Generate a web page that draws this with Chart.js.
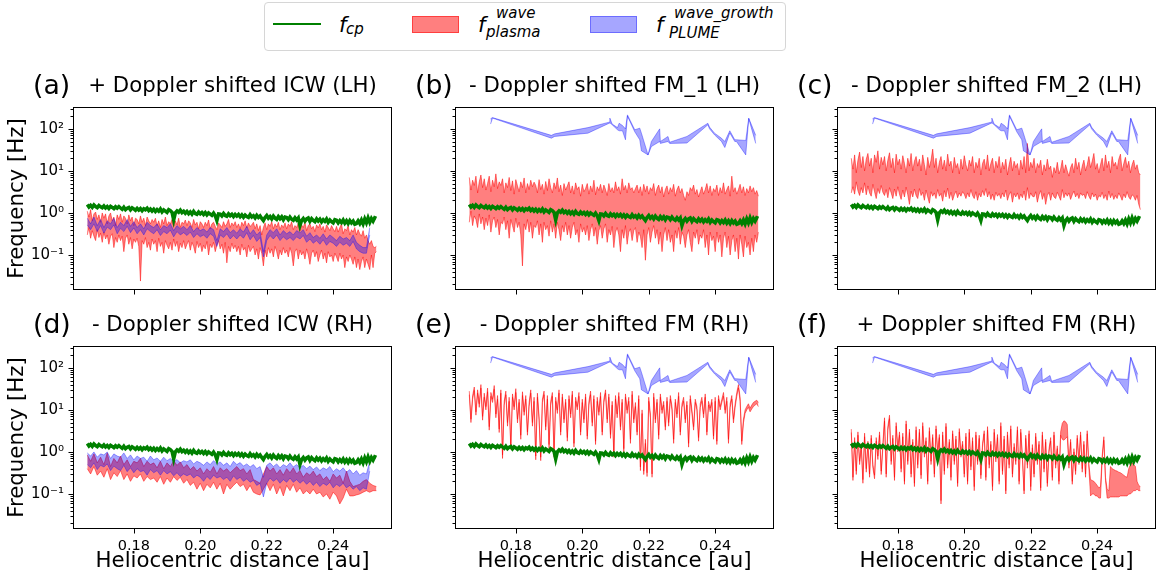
<!DOCTYPE html>
<html><head><meta charset="utf-8">
<script src="https://cdn.jsdelivr.net/npm/chart.js@4.4.0/dist/chart.umd.min.js"></script>
<style>
body{margin:0;background:#fff;width:1159px;height:580px;overflow:hidden;position:relative;font-family:'DejaVu Sans',sans-serif;}
.pane{position:absolute;}
.t{position:absolute;white-space:nowrap;line-height:1;color:#000;font-family:'DejaVu Sans',sans-serif;}
.box{position:absolute;box-sizing:border-box;}
</style></head><body>
<script>
// ---------- DATA ----------
// coarse distance grid [au]
const dist = [0.166,0.167,0.168,0.169,0.170,0.171,0.172,0.173,0.174,0.175,
 0.176,0.177,0.178,0.179,0.180,0.181,0.182,0.183,0.184,0.185,
 0.186,0.187,0.188,0.189,0.190,0.191,0.192,0.193,0.194,0.195,
 0.196,0.197,0.198,0.199,0.200,0.201,0.202,0.203,0.204,0.205,
 0.206,0.207,0.208,0.209,0.210,0.211,0.212,0.213,0.214,0.215,
 0.216,0.217,0.218,0.219,0.220,0.221,0.222,0.223,0.224,0.225,
 0.226,0.227,0.228,0.229,0.230,0.231,0.232,0.233,0.234,0.235,
 0.236,0.237,0.238,0.239,0.240,0.241,0.242,0.243,0.244,0.245,
 0.246,0.247,0.248,0.249,0.250,0.251,0.252,0.253];
// fine distance grid [au]
const distFine = [0.1660,0.1665,0.1670,0.1675,0.1680,0.1685,0.1690,0.1695,0.1700,0.1705,
 0.1710,0.1715,0.1720,0.1725,0.1730,0.1735,0.1740,0.1745,0.1750,0.1755,
 0.1760,0.1765,0.1770,0.1775,0.1780,0.1785,0.1790,0.1795,0.1800,0.1805,
 0.1810,0.1815,0.1820,0.1825,0.1830,0.1835,0.1840,0.1845,0.1850,0.1855,
 0.1860,0.1865,0.1870,0.1875,0.1880,0.1885,0.1890,0.1895,0.1900,0.1905,
 0.1910,0.1915,0.1920,0.1925,0.1930,0.1935,0.1940,0.1945,0.1950,0.1955,
 0.1960,0.1965,0.1970,0.1975,0.1980,0.1985,0.1990,0.1995,0.2000,0.2005,
 0.2010,0.2015,0.2020,0.2025,0.2030,0.2035,0.2040,0.2045,0.2050,0.2055,
 0.2060,0.2065,0.2070,0.2075,0.2080,0.2085,0.2090,0.2095,0.2100,0.2105,
 0.2110,0.2115,0.2120,0.2125,0.2130,0.2135,0.2140,0.2145,0.2150,0.2155,
 0.2160,0.2165,0.2170,0.2175,0.2180,0.2185,0.2190,0.2195,0.2200,0.2205,
 0.2210,0.2215,0.2220,0.2225,0.2230,0.2235,0.2240,0.2245,0.2250,0.2255,
 0.2260,0.2265,0.2270,0.2275,0.2280,0.2285,0.2290,0.2295,0.2300,0.2305,
 0.2310,0.2315,0.2320,0.2325,0.2330,0.2335,0.2340,0.2345,0.2350,0.2355,
 0.2360,0.2365,0.2370,0.2375,0.2380,0.2385,0.2390,0.2395,0.2400,0.2405,
 0.2410,0.2415,0.2420,0.2425,0.2430,0.2435,0.2440,0.2445,0.2450,0.2455,
 0.2460,0.2465,0.2470,0.2475,0.2480,0.2485,0.2490,0.2495,0.2500,0.2505,
 0.2510,0.2515,0.2520,0.2525,0.2530];

// proton cyclotron frequency f_cp [Hz] (fine grid)
const fcp = [1.58,1.38,1.52,1.36,1.55,1.42,1.34,1.50,1.40,1.33,
 1.47,1.31,1.42,1.28,1.44,1.35,1.26,1.40,1.30,1.42,
 1.31,1.22,1.37,1.20,1.30,1.35,1.18,1.32,1.25,1.16,
 1.29,1.17,1.27,1.13,1.26,1.19,1.30,1.14,1.24,1.11,
 1.22,1.08,1.20,1.10,1.24,1.06,1.18,1.11,1.03,1.20,
 1.14,1.03,0.68,1.01,1.12,1.04,1.16,1.02,1.10,0.98,
 1.08,0.96,1.06,0.94,1.09,0.97,0.93,1.05,0.95,1.03,
 0.92,1.02,0.90,1.00,0.94,0.88,0.99,0.86,0.66,0.95,
 0.94,0.85,0.97,0.87,0.83,0.95,0.86,0.93,0.82,0.92,
 0.84,0.92,0.81,0.90,0.79,0.89,0.82,0.78,0.91,0.80,
 0.86,0.76,0.88,0.78,0.85,0.74,0.66,0.78,0.87,0.75,
 0.82,0.72,0.84,0.75,0.70,0.82,0.73,0.81,0.69,0.80,
 0.78,0.69,0.80,0.71,0.67,0.77,0.68,0.76,0.50,0.66,
 0.74,0.64,0.72,0.76,0.63,0.73,0.66,0.62,0.72,0.64,
 0.71,0.61,0.69,0.63,0.72,0.60,0.68,0.62,0.58,0.69,
 0.67,0.58,0.66,0.59,0.68,0.57,0.65,0.56,0.66,0.58,
 0.64,0.54,0.56,0.65,0.56,0.68,0.55,0.72,0.58,0.76,
 0.60,0.74,0.64,0.77,0.74];

// (a) + Doppler shifted ICW (LH): plasma band (fine grid)
const aRedHi = [1.10,0.80,1.20,0.65,0.95,1.05,0.70,0.90,0.60,1.00,
 0.75,0.95,0.55,0.85,1.00,0.65,0.80,0.50,0.90,0.70,
 0.95,0.60,0.85,0.75,0.55,0.90,0.65,0.80,0.50,0.75,
 0.70,0.55,0.85,0.60,0.75,0.50,0.80,0.65,0.55,0.70,
 0.60,0.75,0.50,0.65,0.45,0.70,0.55,0.80,0.50,0.62,
 0.55,0.70,0.48,0.65,0.52,0.75,0.45,0.60,0.55,0.68,
 0.50,0.65,0.58,0.45,0.70,0.52,0.60,0.42,0.62,0.55,
 0.45,0.60,0.50,0.68,0.42,0.55,0.60,0.48,0.40,0.58,
 0.52,0.45,0.62,0.48,0.55,0.70,0.45,0.58,0.50,0.62,
 0.45,0.55,0.42,0.60,0.50,0.65,0.44,0.58,0.48,0.52,
 0.60,0.42,0.55,0.38,0.50,0.30,0.45,0.58,0.40,0.55,
 0.48,0.62,0.42,0.55,0.46,0.60,0.40,0.52,0.45,0.58,
 0.42,0.55,0.48,0.62,0.40,0.50,0.45,0.58,0.38,0.52,
 0.45,0.60,0.38,0.50,0.55,0.42,0.48,0.36,0.52,0.44,
 0.55,0.40,0.48,0.35,0.52,0.45,0.38,0.50,0.42,0.36,
 0.48,0.35,0.45,0.55,0.32,0.42,0.38,0.50,0.30,0.40,
 0.35,0.45,0.30,0.40,0.32,0.28,0.38,0.25,0.30,0.22,
 0.18,0.22,0.16,0.15,0.16];
const aRedLo = [0.30,0.45,0.25,0.38,0.28,0.22,0.40,0.26,0.33,0.20,
 0.35,0.24,0.30,0.18,0.28,0.32,0.15,0.26,0.20,0.30,
 0.22,0.28,0.12,0.25,0.30,0.18,0.26,0.14,0.24,0.20,
 0.25,0.16,0.024,0.22,0.18,0.26,0.15,0.20,0.13,0.24,
 0.18,0.22,0.12,0.25,0.16,0.20,0.11,0.22,0.17,0.14,
 0.20,0.13,0.24,0.16,0.21,0.12,0.19,0.15,0.22,0.14,
 0.18,0.22,0.13,0.20,0.16,0.11,0.21,0.15,0.19,0.12,
 0.17,0.14,0.21,0.10,0.18,0.15,0.20,0.12,0.17,0.22,
 0.14,0.18,0.11,0.20,0.065,0.16,0.12,0.19,0.14,0.17,
 0.12,0.16,0.10,0.18,0.13,0.15,0.09,0.17,0.12,0.14,
 0.16,0.10,0.14,0.08,0.15,0.11,0.055,0.13,0.09,0.15,
 0.11,0.14,0.09,0.16,0.12,0.08,0.13,0.10,0.15,0.11,
 0.13,0.09,0.15,0.11,0.055,0.12,0.14,0.08,0.13,0.10,
 0.12,0.08,0.14,0.10,0.06,0.11,0.13,0.09,0.12,0.07,
 0.10,0.13,0.08,0.11,0.065,0.12,0.09,0.10,0.07,0.11,
 0.09,0.07,0.11,0.08,0.10,0.05,0.09,0.07,0.10,0.08,
 0.06,0.09,0.05,0.08,0.045,0.07,0.09,0.05,0.08,0.06,
 0.045,0.10,0.05,0.11,0.12];
// (a) PLUME band (coarse grid)
const aBlueHi = [0.75,0.55,0.80,0.50,0.70,0.45,0.65,0.55,0.75,0.45,
 0.60,0.50,0.70,0.48,0.62,0.45,0.55,0.42,0.60,0.50,
 0.45,0.55,0.40,0.50,0.45,0.55,0.38,0.50,0.42,0.48,
 0.40,0.50,0.36,0.45,0.38,0.42,0.35,0.45,0.40,0.22,
 0.42,0.36,0.45,0.34,0.40,0.33,0.42,0.35,0.48,0.32,
 0.40,0.30,0.36,0.12,0.30,0.40,0.34,0.42,0.30,0.38,
 0.32,0.36,0.30,0.38,0.34,0.40,0.28,0.34,0.26,0.30,
 0.25,0.32,0.24,0.30,0.26,0.22,0.28,0.24,0.26,0.22,
 0.30,0.20,0.17,0.15,0.15,0.45];
const aBlueLo = [0.52,0.40,0.55,0.36,0.50,0.33,0.46,0.40,0.52,0.32,
 0.43,0.36,0.48,0.34,0.44,0.32,0.40,0.30,0.42,0.36,
 0.32,0.40,0.29,0.36,0.32,0.39,0.27,0.36,0.30,0.34,
 0.29,0.35,0.26,0.32,0.27,0.30,0.25,0.32,0.28,0.16,
 0.30,0.26,0.32,0.24,0.29,0.24,0.30,0.25,0.34,0.23,
 0.29,0.21,0.26,0.09,0.22,0.29,0.24,0.30,0.22,0.27,
 0.23,0.26,0.22,0.27,0.24,0.29,0.20,0.24,0.19,0.22,
 0.18,0.23,0.17,0.21,0.19,0.16,0.20,0.17,0.19,0.16,
 0.21,0.14,0.12,0.11,0.11,0.30];

// (b) - Doppler shifted FM_1 (LH): plasma band (fine grid)
const bRedHi = [7.0,3.5,6.0,4.5,7.5,3.0,5.5,8.0,4.0,6.5,
 3.5,5.0,7.5,3.2,6.0,4.2,8.5,3.8,5.5,4.5,
 6.5,3.0,5.2,4.0,7.0,3.4,5.8,2.8,6.2,4.4,
 3.2,5.5,4.0,6.8,3.0,5.0,3.6,6.0,4.2,5.4,
 4.5,3.0,6.2,3.6,4.8,2.8,5.6,3.4,6.5,4.0,
 3.0,5.2,3.8,6.8,3.2,4.6,2.6,5.0,3.5,4.4,
 5.5,3.0,4.4,2.8,5.2,3.6,4.2,2.5,4.8,3.2,
 3.8,5.0,2.8,4.4,3.2,6.0,2.7,4.2,3.4,4.8,
 3.0,4.6,3.6,2.6,5.0,3.2,4.0,3.0,5.5,3.4,
 4.2,2.8,6.5,3.5,4.5,3.0,5.2,3.6,4.0,3.0,
 3.8,4.6,3.0,4.2,2.6,4.8,3.2,4.4,2.8,4.0,
 3.4,5.0,2.6,3.8,4.6,3.0,4.2,2.4,3.6,4.4,
 2.8,4.0,3.2,4.8,2.5,3.6,4.4,3.0,3.8,2.6,
 2.0,3.2,2.6,4.0,3.4,4.6,2.8,3.6,2.4,3.2,
 4.2,2.8,3.6,5.0,3.0,4.4,2.6,3.8,3.2,4.6,
 2.6,4.0,3.0,5.2,2.8,3.6,4.4,2.5,7.5,3.2,
 4.0,2.8,3.6,4.8,3.0,4.2,2.6,3.8,3.0,4.4,
 3.2,4.0,2.8,3.4,2.5];
const bRedLo = [0.60,1.10,0.50,0.85,0.70,0.45,0.95,0.55,0.80,0.40,
 0.75,0.50,0.90,0.35,0.65,0.80,0.45,0.70,0.30,0.60,
 0.55,0.80,0.40,0.65,0.25,0.70,0.50,0.35,0.75,0.45,
 0.60,0.30,0.055,0.55,0.40,0.70,0.35,0.60,0.25,0.50,
 0.45,0.65,0.30,0.55,0.20,0.60,0.40,0.50,0.28,0.65,
 0.35,0.55,0.25,0.60,0.40,0.22,0.50,0.35,0.60,0.30,
 0.50,0.25,0.45,0.60,0.30,0.40,0.20,0.55,0.35,0.45,
 0.30,0.50,0.22,0.40,0.55,0.28,0.45,0.18,0.38,0.50,
 0.25,0.42,0.55,0.20,0.40,0.30,0.48,0.15,0.35,0.45,
 0.30,0.12,0.40,0.25,0.50,0.18,0.35,0.42,0.22,0.38,
 0.45,0.20,0.35,0.28,0.15,0.40,0.075,0.30,0.45,0.20,
 0.35,0.50,0.25,0.40,0.18,0.35,0.12,0.30,0.45,0.22,
 0.40,0.20,0.30,0.12,0.38,0.25,0.45,0.18,0.35,0.28,
 0.15,0.30,0.40,0.20,0.12,0.35,0.25,0.40,0.18,0.30,
 0.25,0.40,0.15,0.30,0.10,0.35,0.22,0.28,0.12,0.35,
 0.20,0.30,0.09,0.25,0.35,0.15,0.28,0.10,0.22,0.30,
 0.12,0.25,0.08,0.30,0.18,0.09,0.28,0.15,0.20,0.10,
 0.25,0.12,0.30,0.20,0.35];

// (c) - Doppler shifted FM_2 (LH): plasma band (fine grid)
const cRedHi = [20,11,24,9,18,28,12,22,10,19,
 26,13,20,9,24,16,30,11,21,14,
 22,10,18,27,12,20,9,25,14,19,
 11,23,15,9,20,13,26,10,17,22,
 13,19,10,24,14,8,21,12,18,33,
 12,20,9,16,22,11,18,10,25,13,
 17,9,21,12,15,8.5,19,11,23,14,
 10,18,13,22,9,16,12,20,8,15,
 19,11,24,10,15,20,9,17,12,22,
 9,16,11,19,8,14,21,10,17,12,
 15,8,18,11,22,9,45,10,16,12,
 20,9,15,12,18,8,14,10,19,11,
 13,7,12,9,16,8.5,11,18,9,14,
 10,7.5,12,15,9,20,11,16,8,13,
 18,10,14,22,12,17,26,11,15,9,
 14,20,10,24,12,17,9,22,13,16,
 11,19,25,10,15,21,12,17,9,14,
 18,11,14,9,8];
const cRedLo = [3.0,4.2,2.8,5.5,3.4,2.6,4.0,3.0,5.2,2.7,
 4.4,3.0,2.5,4.8,3.2,2.2,3.8,2.9,4.5,3.1,
 2.6,3.6,2.3,4.0,3.0,2.2,3.7,2.5,4.2,2.8,
 2.1,3.5,2.4,4.1,2.7,1.6,3.3,2.4,3.7,2.6,
 2.2,3.8,2.6,3.1,2.0,3.5,2.4,1.7,3.2,2.5,
 3.0,2.2,3.6,2.5,2.9,1.9,3.4,2.4,3.9,2.2,
 3.1,2.0,2.7,3.3,2.3,3.0,2.5,3.2,2.8,2.2,
 3.0,2.4,3.6,2.6,2.2,3.2,2.0,2.9,2.4,3.4,
 2.6,3.8,2.4,3.2,2.1,2.8,2.0,3.1,2.5,2.9,
 2.2,3.0,2.4,3.5,2.0,2.7,3.2,1.8,2.9,2.4,
 3.0,2.1,2.8,2.3,3.3,2.0,4.0,2.2,3.0,2.5,
 2.4,3.2,1.8,2.7,3.4,2.1,2.9,1.6,2.6,3.1,
 2.0,3.0,2.4,2.2,3.1,2.5,2.0,3.6,2.3,3.0,
 2.5,3.0,2.1,2.7,3.3,2.4,2.9,2.2,3.0,2.6,
 2.8,2.2,3.2,2.5,2.1,3.0,2.4,2.8,2.0,2.6,
 2.4,3.1,2.2,2.7,2.0,3.3,2.3,2.9,2.1,2.6,
 2.2,3.0,2.5,2.0,2.8,2.3,3.2,2.4,2.1,2.7,
 2.5,2.0,2.6,1.6,1.2];

// (d) - Doppler shifted ICW (RH): plasma and PLUME bands (coarse grid)
const dRedHi = [0.85,0.60,0.90,0.55,0.75,0.50,0.95,0.45,0.70,0.55,
 0.80,0.50,0.65,0.45,0.60,0.55,0.70,0.45,0.60,0.50,
 0.55,0.42,0.60,0.40,0.55,0.45,0.62,0.48,0.58,0.42,
 0.50,0.38,0.45,0.35,0.42,0.30,0.40,0.33,0.45,0.30,
 0.42,0.35,0.40,0.32,0.38,0.45,0.36,0.40,0.30,0.38,
 0.22,0.20,0.18,0.30,0.45,0.35,0.42,0.30,0.38,0.28,
 0.40,0.32,0.42,0.30,0.36,0.25,0.32,0.28,0.35,0.26,
 0.30,0.22,0.26,0.20,0.30,0.24,0.28,0.18,0.35,0.20,
 0.15,0.16,0.17,0.20,0.22,0.18,0.16,0.15];
const dRedLo = [0.40,0.30,0.45,0.28,0.35,0.25,0.40,0.22,0.32,0.26,
 0.36,0.22,0.30,0.20,0.27,0.24,0.30,0.20,0.26,0.22,
 0.24,0.19,0.26,0.17,0.24,0.19,0.26,0.21,0.25,0.18,
 0.22,0.16,0.19,0.13,0.18,0.12,0.17,0.14,0.19,0.13,
 0.18,0.10,0.17,0.13,0.16,0.19,0.15,0.17,0.12,0.16,
 0.11,0.10,0.095,0.13,0.18,0.12,0.17,0.10,0.15,0.09,
 0.16,0.12,0.17,0.11,0.14,0.10,0.12,0.10,0.13,0.10,
 0.11,0.085,0.10,0.075,0.11,0.09,0.058,0.08,0.13,0.09,
 0.09,0.095,0.10,0.11,0.12,0.11,0.12,0.12];
const dBlueHi = [0.95,0.80,1.00,0.75,0.90,0.85,1.00,0.70,0.90,0.80,
 0.75,0.95,0.70,0.85,0.65,0.80,0.70,0.75,0.60,0.80,
 0.65,0.72,0.60,0.75,0.62,0.70,0.58,0.66,0.55,0.62,
 0.58,0.65,0.52,0.60,0.55,0.48,0.58,0.50,0.62,0.52,
 0.58,0.48,0.55,0.45,0.60,0.50,0.56,0.46,0.52,0.44,
 0.50,0.40,0.45,0.25,0.48,0.55,0.45,0.52,0.42,0.50,
 0.45,0.55,0.44,0.50,0.42,0.48,0.40,0.46,0.38,0.44,
 0.36,0.42,0.38,0.45,0.34,0.40,0.35,0.42,0.33,0.38,
 0.30,0.36,0.28,0.32,0.30,0.60];
const dBlueLo = [0.50,0.42,0.55,0.38,0.48,0.44,0.52,0.36,0.46,0.40,
 0.36,0.48,0.34,0.42,0.32,0.40,0.34,0.36,0.28,0.38,
 0.32,0.36,0.28,0.36,0.30,0.34,0.27,0.32,0.26,0.30,
 0.27,0.30,0.24,0.28,0.25,0.20,0.26,0.22,0.28,0.24,
 0.26,0.22,0.25,0.20,0.27,0.22,0.25,0.20,0.23,0.19,
 0.21,0.16,0.18,0.085,0.18,0.24,0.20,0.23,0.18,0.22,
 0.19,0.24,0.19,0.22,0.18,0.21,0.17,0.20,0.16,0.19,
 0.15,0.18,0.16,0.19,0.14,0.17,0.15,0.18,0.14,0.16,
 0.13,0.15,0.12,0.14,0.13,0.35];

// (e) - Doppler shifted FM (RH): plasma band (fine grid)
const eRedHi = [28,6,22,35,9,30,14,40,7,25,
 12,33,4,26,18,38,8,22,3.5,30,
 0.85,16,28,5,20,1.4,24,12,32,6,
 18,2.5,27,9,22,3,15,30,5,20,
 0.8,25,7,0.75,18,28,4,22,1.5,16,
 26,0.9,20,10,30,3,24,6,18,2.2,
 22,8,28,1.6,20,12,26,3,18,6,
 24,2.4,16,28,5,22,1.8,20,9,26,
 3,18,30,6,24,2.6,16,0.9,22,8,
 26,4,18,1.2,24,10,20,2,28,6,
 15,3,22,0.44,10,0.35,2,0.32,20,8,
 0.3,25,6,18,2.5,24,10,16,4,20,
 5,22,12,2,18,8,26,3,14,20,
 6,16,1.6,22,10,4,18,12,2.2,14,
 20,8,24,3,16,11,18,2.4,20,1.8,
 22,12,18,26,10,20,2,14,22,6,
 14,26,40,20,1.8,6,10,12,14,11,
 13,15,16,17,15];
const eRedLo = [23,5,18,29,7.5,25,11.5,33,5.7,20,
 10,27,3.3,21,15,31,6.5,18,2.9,25,
 0.7,13,23,4.1,16,1.15,20,10,26,4.9,
 15,2,22,7.4,18,2.5,12,25,4.1,16,
 0.65,20,5.7,0.62,15,23,3.3,18,1.2,13,
 21,0.75,16,8.2,25,2.5,20,4.9,15,1.8,
 18,6.5,23,1.3,16,10,21,2.5,15,4.9,
 20,2,13,23,4.1,18,1.5,16,7.4,21,
 2.5,15,25,4.9,20,2.1,13,0.75,18,6.5,
 21,3.3,15,1,20,8.2,16,1.6,23,4.9,
 12,2.5,18,0.36,8.2,0.29,1.6,0.26,16,6.5,
 0.25,20,4.9,15,2,20,8.2,13,3.3,16,
 4.1,18,10,1.6,15,6.5,21,2.5,11.5,16,
 4.9,13,1.3,18,8.2,3.3,15,10,1.8,11.5,
 16,6.5,20,2.5,13,9,15,2,16,1.5,
 18,10,15,21,8.2,16,1.6,11.5,18,4.9,
 11.5,21,33,16,1.5,4.9,8.2,10,11.5,9,
 10.5,12,13,14,12];

// (f) + Doppler shifted FM (RH): plasma band (fine grid)
const fRedHi = [3.5,0.25,2.2,0.35,3.0,0.6,1.6,0.22,2.8,0.4,
 1.8,0.3,2.5,0.5,0.28,2.2,0.8,3.0,0.35,1.5,
 6.5,0.3,4.0,7.5,0.6,2.5,0.25,5.0,1.2,3.0,
 0.4,2.8,0.2,5.5,0.6,3.5,0.3,2.0,0.18,4.0,
 0.5,3.5,0.28,5.0,0.9,2.2,0.2,3.8,0.6,2.6,
 0.3,4.2,1.0,2.6,0.07,3.0,0.35,4.8,0.5,2.0,
 0.25,3.2,0.6,2.4,0.18,3.6,0.9,1.8,0.3,2.8,
 0.2,3.5,0.45,2.2,0.15,3.0,0.6,2.5,0.28,1.6,
 3.2,0.25,4.0,0.5,1.8,0.15,3.5,0.7,2.6,0.2,
 5.0,0.35,2.4,0.12,3.0,0.5,4.2,0.3,1.6,0.6,
 4.0,0.2,3.5,0.8,0.12,2.5,0.5,3.2,0.15,1.5,
 0.3,2.8,0.6,1.8,0.14,3.0,0.4,2.0,0.18,1.2,
 2.2,0.25,3.0,0.5,1.4,0.2,3.0,4.8,5.5,5.2,
 4.5,0.5,2.0,0.2,1.2,0.35,2.5,0.6,3.0,0.4,
 1.8,0.3,3.2,0.5,0.22,0.21,0.2,0.18,0.16,0.14,
 0.15,0.8,2.3,0.25,0.13,0.12,0.45,0.40,0.38,0.36,
 0.35,0.33,0.32,0.30,0.28,0.26,0.25,0.4,0.5,0.55,
 0.5,0.45,0.2,0.16,0.15];
const fRedLo = [2.9,0.21,1.8,0.29,2.5,0.5,1.3,0.18,2.3,0.33,
 1.5,0.25,2.1,0.42,0.23,1.8,0.66,2.5,0.29,1.25,
 5.4,0.25,3.3,6.2,0.5,2.1,0.21,4.1,1.0,2.5,
 0.33,2.3,0.17,4.6,0.5,2.9,0.25,1.7,0.15,3.3,
 0.41,2.9,0.23,4.1,0.75,1.8,0.17,3.1,0.5,2.2,
 0.25,3.5,0.83,2.2,0.058,2.5,0.29,4.0,0.41,1.7,
 0.21,2.7,0.5,2.0,0.15,3.0,0.75,1.5,0.25,2.3,
 0.17,2.9,0.37,1.8,0.12,2.5,0.5,2.1,0.23,1.3,
 2.7,0.21,3.3,0.41,1.5,0.12,2.9,0.58,2.2,0.17,
 4.1,0.29,2.0,0.1,2.5,0.41,3.5,0.25,1.3,0.5,
 3.3,0.17,2.9,0.66,0.1,2.1,0.41,2.7,0.12,1.25,
 0.25,2.3,0.5,1.5,0.12,2.5,0.33,1.7,0.15,1.0,
 1.8,0.21,2.5,0.41,1.2,0.17,2.5,2.0,1.9,2.1,
 2.3,0.41,1.7,0.17,1.0,0.29,2.1,0.5,2.5,0.33,
 1.5,0.25,2.7,0.41,0.09,0.1,0.1,0.09,0.09,0.08,
 0.08,0.66,1.9,0.21,0.08,0.08,0.085,0.085,0.085,0.085,
 0.085,0.085,0.09,0.09,0.09,0.09,0.09,0.1,0.1,0.11,
 0.12,0.12,0.13,0.12,0.12];

// PLUME wave-growth band for the FM panels (b, c, e, f)
const plumeDist = [0.1724,0.1730,0.1907,0.1917,0.2017,0.2081,0.2083,0.2090,0.2106,0.2111,
 0.2121,0.2130,0.2136,0.2158,0.2173,0.2178,0.2198,0.2208,0.2233,0.2235,
 0.2258,0.2263,0.2315,0.2378,0.2383,0.2398,0.2419,0.2429,0.2444,0.2459,
 0.2464,0.2492,0.2501,0.2522];
const plumeHi = [175,185,70,76,107,144,180,130,107,136,
 120,100,215,95,104,79,24,50,100,50,
 66,48,66,136,110,79,60,50,90,55,
 55,53,180,70];
const plumeLo = [130,180,60,66,79,136,140,125,95,90,
 90,55,200,85,55,30,24,38,50,45,
 50,45,46,125,100,72,50,36,80,50,
 50,24,175,45];

const xTicks = [0.18,0.20,0.22,0.24];
const yTicks = [0.02,0.03,0.04,0.05,0.06,0.07,0.08,0.09,0.1,0.2,0.3,0.4,0.5,0.6,0.7,0.8,0.9,1,2,3,4,5,6,7,8,9,10,20,30,40,50,60,70,80,90,100,200,300];
const yLabels = {'100':'10²','10':'10¹','1':'10⁰','0.1':'10⁻¹'};
const titles = ['+ Doppler shifted ICW (LH)','- Doppler shifted FM_1 (LH)','- Doppler shifted FM_2 (LH)',
 '- Doppler shifted ICW (RH)','- Doppler shifted FM (RH)','+ Doppler shifted FM (RH)'];
const letters = ['(a)','(b)','(c)','(d)','(e)','(f)'];

// ---------- RENDER ----------
const XMIN=0.1617, XMAX=0.2577, YMIN=0.0147, YMAX=331;
const RED='rgba(255,0,0,0.5)', BLUE='rgba(0,0,255,0.35)', GREEN='#008000';
const mk=(xs,ys)=>ys.map((y,i)=>({x:xs[i],y}));
const isMajor=v=>Math.abs(Math.log10(v)-Math.round(Math.log10(v)))<1e-9;

const frameTicks={id:'frameTicks',afterDraw(chart){
  const {ctx,chartArea:a,scales:{x,y}}=chart;
  ctx.save(); ctx.strokeStyle='#000'; ctx.lineWidth=1;
  const L=Math.round(a.left)+0.5,T=Math.round(a.top)+0.5,R=Math.round(a.right)-0.5,B=Math.round(a.bottom)-0.5;
  ctx.strokeRect(L,T,R-L,B-T);
  ctx.beginPath();
  y.ticks.forEach(t=>{const p=Math.round(y.getPixelForValue(t.value))+0.5;const len=isMajor(t.value)?5:3;ctx.moveTo(L-len,p);ctx.lineTo(L,p);});
  x.ticks.forEach(t=>{const p=Math.round(x.getPixelForValue(t.value))+0.5;ctx.moveTo(p,B);ctx.lineTo(p,B+5);});
  ctx.stroke(); ctx.restore();
}};

Chart.defaults.font.family="'DejaVu Sans', sans-serif";
Chart.defaults.color='#000';

const panels=[
 {L:73,T:107,rx:distFine,rlo:aRedLo,rhi:aRedHi,bx:dist,blo:aBlueLo,bhi:aBlueHi,sy:true,sx:false},
 {L:455,T:107,rx:distFine,rlo:bRedLo,rhi:bRedHi,bx:plumeDist,blo:plumeLo,bhi:plumeHi,sy:false,sx:false},
 {L:837,T:107,rx:distFine,rlo:cRedLo,rhi:cRedHi,bx:plumeDist,blo:plumeLo,bhi:plumeHi,sy:false,sx:false},
 {L:73,T:346,rx:dist,rlo:dRedLo,rhi:dRedHi,bx:dist,blo:dBlueLo,bhi:dBlueHi,sy:true,sx:true},
 {L:455,T:346,rx:distFine,rlo:eRedLo,rhi:eRedHi,bx:plumeDist,blo:plumeLo,bhi:plumeHi,sy:false,sx:true},
 {L:837,T:346,rx:distFine,rlo:fRedLo,rhi:fRedHi,bx:plumeDist,blo:plumeLo,bhi:plumeHi,sy:false,sx:true}
];

function txt(s,x,base,size,opt={}){
  const e=document.createElement('span'); e.className='t'; e.textContent=s;
  e.style.fontSize=size+'px'; e.style.top=(base-0.846*size)+'px'; e.style.left=x+'px';
  if(opt.italic) e.style.fontStyle='italic';
  if(opt.center) e.style.transform='translateX(-50%)';
  document.body.appendChild(e); return e;
}

panels.forEach((p,i)=>{
  const div=document.createElement('div'); div.className='pane';
  div.style.left=(p.L-73)+'px'; div.style.top=(p.T-20)+'px';
  const cv=document.createElement('canvas'); cv.width=404; cv.height=254;
  cv.style.width='404px'; cv.style.height='254px';
  div.appendChild(cv); document.body.appendChild(div);
  const ds=[
    {data:mk(distFine,fcp),borderColor:GREEN,borderWidth:3.5,fill:false},
    {data:mk(p.bx,p.blo),borderColor:BLUE,borderWidth:1,fill:false},
    {data:mk(p.bx,p.bhi),borderColor:BLUE,borderWidth:1,fill:'-1',backgroundColor:BLUE},
    {data:mk(p.rx,p.rlo),borderColor:RED,borderWidth:1,fill:false},
    {data:mk(p.rx,p.rhi),borderColor:RED,borderWidth:1,fill:'-1',backgroundColor:RED}
  ];
  new Chart(cv,{type:'line',data:{datasets:ds},plugins:[frameTicks],options:{
    responsive:false,animation:false,devicePixelRatio:1,
    layout:{padding:{top:20,right:12,left:0,bottom:0}},
    plugins:{legend:{display:false},tooltip:{enabled:false}},
    elements:{point:{radius:0},line:{tension:0}},
    scales:{
      x:{type:'linear',min:XMIN,max:XMAX,
        afterBuildTicks:s=>{s.ticks=xTicks.map(v=>({value:v}));},
        afterFit:s=>{s.height=51;},
        grid:{display:false,drawTicks:false},border:{display:false},
        ticks:{display:p.sx,autoSkip:false,maxRotation:0,padding:9,font:{size:14.5},callback:v=>Number(v).toFixed(2)},
        title:{display:p.sx,text:'Heliocentric distance [au]',font:{size:21.3},padding:{top:0,bottom:6}}},
      y:{type:'logarithmic',min:YMIN,max:YMAX,
        afterBuildTicks:s=>{s.ticks=yTicks.map(v=>({value:v}));},
        afterFit:s=>{s.width=73;},
        grid:{display:false,drawTicks:false},border:{display:false},
        ticks:{display:p.sy,autoSkip:false,padding:9,font:{size:15},callback:v=>yLabels[String(v)]||''},
        title:{display:p.sy,text:'Frequency [Hz]',font:{size:21.3},padding:{top:5,bottom:0}}}
    }
  }});
  const rowBase = p.T===107?0:239;
  txt(letters[i],p.L-40,95+rowBase,26.7);
  txt(titles[i],p.L+159.5,92+rowBase,21.3,{center:true});
});

// ---------- LEGEND ----------
(function(){
  const b=document.createElement('div'); b.className='box';
  Object.assign(b.style,{left:'264px',top:'2px',width:'522px',height:'49px',border:'1px solid #d6d6d6',borderRadius:'4px',background:'rgba(255,255,255,0.8)'});
  document.body.appendChild(b);
  const g=document.createElement('div'); g.className='box';
  Object.assign(g.style,{left:'273px',top:'23px',width:'48px',height:'1.5px',background:GREEN});
  document.body.appendChild(g);
  const r=document.createElement('div'); r.className='box';
  Object.assign(r.style,{left:'412px',top:'16px',width:'47px',height:'17px',background:RED,border:'1px solid '+RED});
  document.body.appendChild(r);
  const bl=document.createElement('div'); bl.className='box';
  Object.assign(bl.style,{left:'590px',top:'16px',width:'47px',height:'17px',background:BLUE,border:'1px solid '+BLUE});
  document.body.appendChild(bl);
  txt('f',339,32,21.3,{italic:true}); txt('cp',346,35,15,{italic:true});
  txt('f',478,32,21.3,{italic:true}); txt('wave',496,18.5,15,{italic:true}); txt('plasma',486,38,15,{italic:true});
  txt('f',656,32,21.3,{italic:true}); txt('wave_growth',674,18.5,15,{italic:true}); txt('PLUME',669,39,15,{italic:true});
})();
</script>
</body></html>
